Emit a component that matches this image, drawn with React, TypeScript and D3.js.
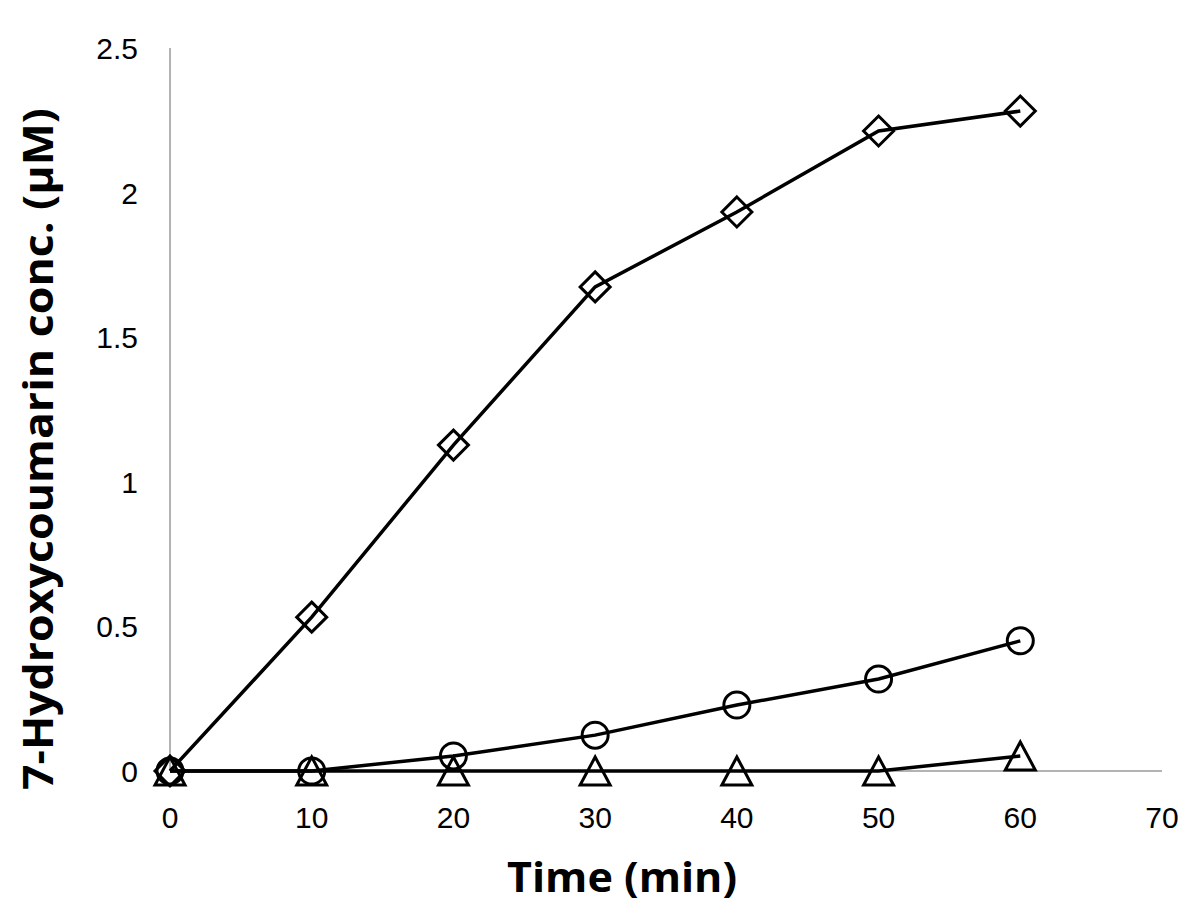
import React from "react";
import * as d3 from "d3";

const times = [0, 10, 20, 30, 40, 50, 60];
const diamondVals = [0, 0.532, 1.127, 1.674, 1.933, 2.213, 2.282];
const circleVals = [0, 0, 0.052, 0.124, 0.228, 0.318, 0.45];
const triangleVals = [0, 0, 0, 0, 0, 0, 0.052];
const xTicks = [0, 10, 20, 30, 40, 50, 60, 70];
const yTicks = [0, 0.5, 1, 1.5, 2, 2.5];
const yTickLabels = ["0", "0.5", "1", "1.5", "2", "2.5"];

export default function App() {
  const W = 1200, H = 920;
  const x = d3.scaleLinear().domain([0, 70]).range([170, 1162]);
  const y = d3.scaleLinear().domain([0, 2.5]).range([771, 48]);
  const line = d3.line<number>().x((_, i) => x(times[i])).y((d) => y(d));
  const font = "'Liberation Sans', Arial, sans-serif";
  const titleFont = "'Open Sans', 'Noto Sans', sans-serif";
  const diamond = "M0,-15L15,0L0,15L-15,0Z";
  const tri = "M0,-17L15,11L-15,11Z";

  return (
    <svg width={W} height={H} style={{ position: "absolute", left: 0, top: 0, background: "#fff" }}>
      <line x1={x(0)} x2={x(0)} y1={y(2.5)} y2={y(0)} stroke="#9a9a9a" strokeWidth={1.5} />
      <line x1={x(0)} x2={x(70)} y1={y(0)} y2={y(0)} stroke="#9a9a9a" strokeWidth={1.5} />
      {xTicks.map((t) => (
        <text key={t} x={x(t)} y={828} textAnchor="middle" fontFamily={font} fontSize={30} fill="#000">{t}</text>
      ))}
      {yTicks.map((t, i) => (
        <text key={t} x={138} y={y(t) + 11} textAnchor="end" fontFamily={font} fontSize={30} fill="#000">{yTickLabels[i]}</text>
      ))}
      <path d={line(triangleVals) || ""} fill="none" stroke="#000" strokeWidth={3.5} />
      <path d={line(circleVals) || ""} fill="none" stroke="#000" strokeWidth={3.5} />
      <path d={line(diamondVals) || ""} fill="none" stroke="#000" strokeWidth={3.5} />
      {triangleVals.map((v, i) => (
        <path key={"t" + i} d={tri} transform={`translate(${x(times[i])},${y(v) + 3})`} fill="none" stroke="#000" strokeWidth={3} />
      ))}
      {circleVals.map((v, i) => (
        <circle key={"c" + i} cx={x(times[i])} cy={y(v)} r={13} fill="none" stroke="#000" strokeWidth={3} />
      ))}
      {diamondVals.map((v, i) => (
        <path key={"d" + i} d={diamond} transform={`translate(${x(times[i])},${y(v)})`} fill="none" stroke="#000" strokeWidth={3} />
      ))}
      <text x={622} y={892} textAnchor="middle" fontFamily={titleFont} fontWeight="bold" fontSize={42} fill="#000" textLength={230} lengthAdjust="spacingAndGlyphs">Time (min)</text>
      <text transform={`translate(53,449) rotate(-90)`} textAnchor="middle" fontFamily={titleFont} fontWeight="bold" fontSize={42} fill="#000" textLength={682} lengthAdjust="spacingAndGlyphs">7-Hydroxycoumarin conc. (μM)</text>
    </svg>
  );
}
